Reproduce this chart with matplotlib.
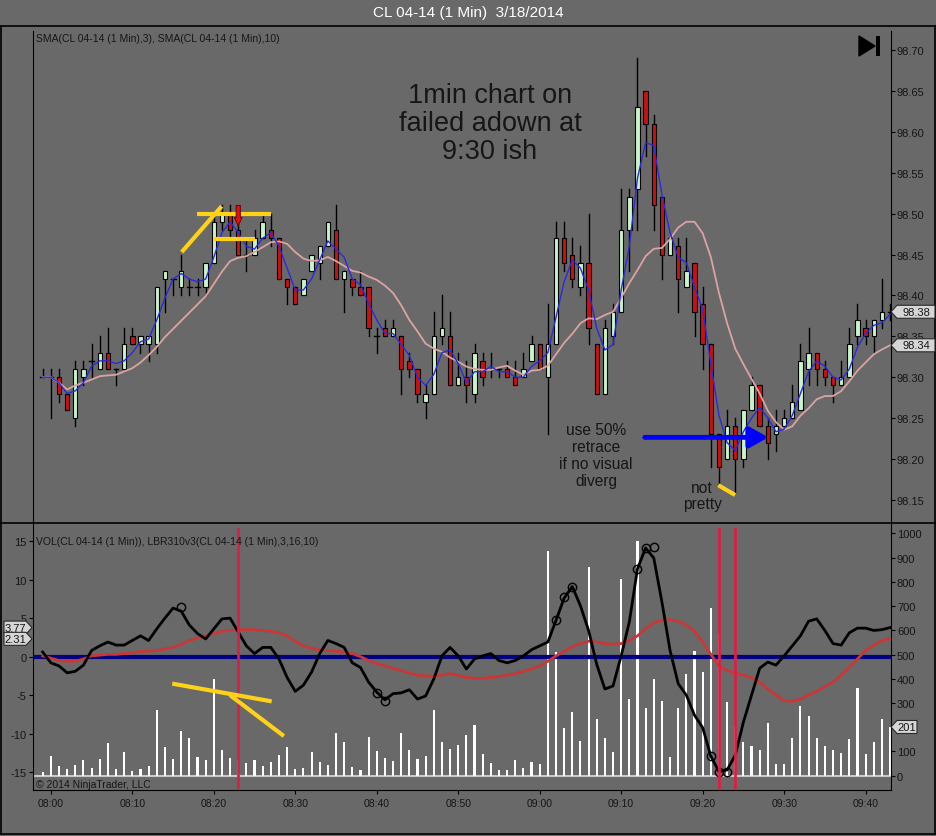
import numpy as np
import pandas as pd
import matplotlib
matplotlib.use('Agg')
import matplotlib.pyplot as plt
from matplotlib.patches import Rectangle, Polygon
from matplotlib.lines import Line2D

# CL 04-14, 1 minute bars, first bar is 07:59
opens = [98.30, 98.30, 98.30, 98.28, 98.25, 98.30, 98.32, 98.31, 98.33, 98.31,
         98.31, 98.35, 98.34, 98.34, 98.34, 98.42, 98.42, 98.41, 98.41, 98.41,
         98.41, 98.44, 98.49, 98.50, 98.48, 98.45, 98.45, 98.47, 98.48, 98.47,
         98.42, 98.41, 98.40, 98.43, 98.44, 98.46, 98.48, 98.42, 98.42, 98.41,
         98.41, 98.35, 98.36, 98.35, 98.35, 98.32, 98.31, 98.27, 98.28, 98.35,
         98.35, 98.29, 98.30, 98.28, 98.32, 98.31, 98.31, 98.31, 98.30, 98.30,
         98.32, 98.34, 98.30, 98.34, 98.47, 98.45, 98.41, 98.44, 98.34, 98.28,
         98.35, 98.38, 98.48, 98.53, 98.65, 98.61, 98.52, 98.45, 98.46, 98.41,
         98.44, 98.39, 98.34, 98.23, 98.20, 98.24, 98.20, 98.26, 98.29, 98.24,
         98.23, 98.24, 98.25, 98.26, 98.31, 98.33, 98.31, 98.30, 98.29, 98.30,
         98.35, 98.36, 98.35, 98.37, 98.38]
highs = [98.31, 98.31, 98.31, 98.28, 98.32, 98.32, 98.34, 98.35, 98.36, 98.31,
         98.36, 98.36, 98.35, 98.35, 98.41, 98.43, 98.42, 98.45, 98.42, 98.42,
         98.44, 98.50, 98.51, 98.51, 98.49, 98.47, 98.48, 98.50, 98.50, 98.47,
         98.42, 98.41, 98.42, 98.45, 98.46, 98.49, 98.51, 98.43, 98.42, 98.43,
         98.41, 98.36, 98.37, 98.37, 98.35, 98.33, 98.31, 98.29, 98.38, 98.40,
         98.38, 98.33, 98.32, 98.34, 98.33, 98.33, 98.31, 98.32, 98.32, 98.33,
         98.35, 98.34, 98.39, 98.49, 98.49, 98.47, 98.46, 98.50, 98.34, 98.37,
         98.39, 98.53, 98.53, 98.69, 98.65, 98.62, 98.52, 98.47, 98.47, 98.47,
         98.44, 98.41, 98.34, 98.23, 98.26, 98.25, 98.26, 98.30, 98.29, 98.25,
         98.26, 98.26, 98.29, 98.34, 98.36, 98.33, 98.32, 98.30, 98.32, 98.36,
         98.39, 98.37, 98.37, 98.42, 98.39]
lows = [98.30, 98.25, 98.27, 98.26, 98.24, 98.29, 98.30, 98.31, 98.31, 98.29,
        98.31, 98.34, 98.33, 98.32, 98.33, 98.38, 98.40, 98.40, 98.40, 98.40,
        98.40, 98.44, 98.48, 98.47, 98.45, 98.43, 98.45, 98.47, 98.46, 98.42,
        98.39, 98.39, 98.40, 98.43, 98.42, 98.46, 98.42, 98.38, 98.40, 98.40,
        98.35, 98.33, 98.35, 98.35, 98.28, 98.30, 98.27, 98.25, 98.28, 98.34,
        98.29, 98.29, 98.27, 98.27, 98.29, 98.30, 98.30, 98.30, 98.29, 98.30,
        98.32, 98.31, 98.23, 98.34, 98.43, 98.41, 98.40, 98.34, 98.28, 98.28,
        98.34, 98.38, 98.43, 98.48, 98.57, 98.48, 98.42, 98.45, 98.38, 98.41,
        98.35, 98.31, 98.19, 98.17, 98.20, 98.16, 98.19, 98.26, 98.24, 98.20,
        98.21, 98.24, 98.25, 98.26, 98.29, 98.29, 98.29, 98.27, 98.29, 98.30,
        98.34, 98.34, 98.33, 98.36, 98.37]
closes = [98.30, 98.30, 98.28, 98.26, 98.31, 98.31, 98.32, 98.33, 98.31, 98.31,
          98.34, 98.34, 98.35, 98.35, 98.41, 98.43, 98.42, 98.43, 98.41, 98.41,
          98.44, 98.49, 98.50, 98.48, 98.45, 98.45, 98.47, 98.49, 98.47, 98.42,
          98.41, 98.39, 98.42, 98.45, 98.46, 98.49, 98.42, 98.43, 98.41, 98.40,
          98.36, 98.35, 98.35, 98.36, 98.31, 98.31, 98.28, 98.28, 98.35, 98.36,
          98.29, 98.30, 98.29, 98.33, 98.30, 98.31, 98.31, 98.30, 98.29, 98.31,
          98.34, 98.31, 98.34, 98.47, 98.44, 98.42, 98.44, 98.36, 98.28, 98.36,
          98.38, 98.48, 98.52, 98.63, 98.61, 98.51, 98.45, 98.47, 98.42, 98.43,
          98.38, 98.34, 98.23, 98.19, 98.24, 98.20, 98.26, 98.29, 98.24, 98.22,
          98.24, 98.25, 98.27, 98.32, 98.33, 98.31, 98.30, 98.29, 98.30, 98.34,
          98.37, 98.35, 98.37, 98.38, 98.38]
volume = [14, 83, 41, 28, 44, 65, 32, 69, 135, 28,
          96, 21, 28, 41, 273, 118, 69, 185, 156, 77,
          65, 399, 106, 74, 65, 52, 65, 41, 56, 85,
          118, 28, 33, 98, 56, 44, 175, 139, 36, 23,
          160, 102, 73, 59, 176, 106, 69, 81, 273, 139,
          110, 127, 168, 209, 90, 52, 25, 25, 63, 32,
          55, 48, 928, 512, 196, 263, 145, 862, 234, 156,
          98, 813, 317, 967, 280, 399, 309, 77, 280, 420,
          515, 428, 693, 585, 304, 205, 139, 123, 106, 218,
          48, 48, 156, 288, 247, 156, 123, 106, 94, 152,
          362, 90, 139, 234, 201]
lbr_fast = [0.6, -0.8, -1.2, -2.1, -1.9, -1.1, 0.8, 1.4, 1.9, 1.5,
            1.5, 2.1, 2.7, 2.1, 3.6, 5.0, 6.3, 5.9, 4.1, 3.0,
            2.3, 3.6, 4.9, 5.0, 3.2, 1.4, 0.4, 1.2, 1.2, -0.3,
            -2.7, -4.5, -3.7, -2.0, 0.4, 2.1, 1.7, 1.2, -0.8, -1.4,
            -3.3, -4.6, -5.6, -4.8, -4.7, -4.3, -5.5, -5.1, -2.9, 0.1,
            1.2, 0.1, -1.6, -0.3, 0.1, 0.4, -0.5, -0.8, -0.5, 0.1,
            0.9, 1.4, 1.9, 4.7, 7.6, 9.1, 6.6, 3.4, -1.0, -4.2,
            -3.8, 0.1, 4.5, 11.4, 14.1, 12.8, 7.1, 0.8, -3.5, -5.0,
            -7.6, -9.2, -12.9, -14.9, -14.7, -12.8, -8.5, -5.0, -1.5, -0.7,
            -1.1, 0.1, 1.4, 2.7, 4.6, 4.9, 3.4, 1.7, 1.5, 3.1,
            3.7, 3.7, 3.4, 3.5, 3.77]
lbr_slow = [0.1, -0.2, -0.5, -0.6, -0.6, -0.3, 0.1, 0.2, 0.3, 0.3,
            0.4, 0.5, 0.7, 0.7, 0.8, 1.0, 1.2, 1.6, 2.1, 2.4,
            2.7, 3.0, 3.3, 3.4, 3.5, 3.5, 3.5, 3.4, 3.3, 3.1,
            2.7, 2.0, 1.4, 1.1, 0.9, 0.8, 0.7, 0.6, 0.4, 0.0,
            -0.5, -0.9, -1.2, -1.5, -1.8, -2.1, -2.4, -2.5, -2.5, -2.4,
            -2.2, -2.4, -2.7, -2.8, -2.8, -2.7, -2.6, -2.4, -2.2, -1.9,
            -1.6, -1.2, -0.6, 0.1, 0.7, 1.3, 1.7, 2.0, 1.9, 1.7,
            1.6, 1.7, 2.1, 2.7, 3.6, 4.4, 4.7, 4.8, 4.6, 4.1,
            3.3, 1.9, 0.3, -1.2, -1.8, -2.1, -2.4, -2.7, -3.3, -4.2,
            -5.0, -5.7, -5.8, -5.5, -5.0, -4.5, -3.9, -3.3, -2.4, -1.4,
            -0.3, 0.8, 1.5, 2.1, 2.31]
div_bars = [17, 41, 42, 63, 64, 65, 73, 74, 75, 82, 83, 84]
div_vals = [6.4, -4.7, -5.8, 4.7, 7.7, 9.1, 11.4, 14.1, 14.2, -12.9, -14.9, -15.0]
marker_bars = [24, 83, 85]

# hand drawn lines (bar index, value)
price_lines = [((17.06, 98.453), (21.97, 98.509)),
               ((18.98, 98.50), (28.0, 98.50)),
               ((21.06, 98.469), (26.06, 98.469)),
               ((82.93, 98.168), (84.98, 98.156))]
osc_lines = [((15.9, -3.5), (28.1, -5.8)),
             ((23.0, -5.0), (29.6, -10.3))]
blue_arrow = ((73.9, 98.2265), (89.06, 98.2265))
red_arrow = (24.0, 98.510, 98.485)

price_ticks = [98.15, 98.20, 98.25, 98.30, 98.35, 98.40, 98.45, 98.50, 98.55, 98.60, 98.65, 98.70]
osc_ticks = [-15, -10, -5, 0, 5, 10, 15]
vol_ticks = list(range(0, 1001, 100))

W, H = 937, 837
BG = '#696969'
TXT = '#161616'
plt.rcParams['font.family'] = ['Liberation Sans', 'DejaVu Sans']

def fx(px):
    return px / W

def fy(py):
    return 1 - py / H

n = len(closes)
xs = np.arange(n)
times = pd.date_range('2014-03-18 07:59', periods=n, freq='min')
cl = pd.Series(closes)
sma3 = cl.rolling(3, min_periods=1).mean()
sma10 = cl.rolling(10, min_periods=1).mean()

fig = plt.figure(figsize=(W / 100, H / 100), dpi=100, facecolor=BG)

ax = fig.add_axes([fx(33), fy(524), fx(890.7) - fx(33), fy(32) - fy(524)], facecolor=BG)
axv = fig.add_axes([fx(33), fy(790.7), fx(890.7) - fx(33), fy(524) - fy(790.7)], facecolor=BG)
axo = axv.twinx()

# ---- price panel
for i in range(n):
    o, h, l, c = opens[i], highs[i], lows[i], closes[i]
    ax.plot([i, i], [l, h], color='black', lw=1, zorder=2)
    if c == o:
        ax.plot([i - 0.3, i + 0.3], [c, c], color='black', lw=1, zorder=3)
    else:
        fc = '#c8f5c8' if c > o else '#cc1010'
        ax.add_patch(Rectangle((i - 0.27, min(o, c)), 0.54, abs(c - o),
                               fc=fc, ec='black', lw=0.8, zorder=3))
ax.plot(xs, sma10, color='#dba3a3', lw=1.3, zorder=4)
ax.plot(xs, sma3, color='#2a2ae0', lw=1, zorder=4)

for (x0, y0), (x1, y1) in price_lines:
    ax.plot([x0, x1], [y0, y1], color='#ffd21a', lw=3, solid_capstyle='butt', zorder=5)
ax.annotate('', xy=blue_arrow[1], xytext=blue_arrow[0],
            arrowprops=dict(arrowstyle='-|>,head_length=0.8,head_width=0.45', color='#0000ff',
                            lw=3.5, mutation_scale=14, shrinkA=0, shrinkB=0), zorder=6)
ax.annotate('', xy=(red_arrow[0], red_arrow[2]), xytext=(red_arrow[0], red_arrow[1]),
            arrowprops=dict(arrowstyle='simple,head_length=0.6,head_width=0.55,tail_width=0.3',
                            fc='#e01010', ec='#700000', lw=0.7, mutation_scale=10,
                            shrinkA=0, shrinkB=0), zorder=6)

ax.set_xlim(-1.19, 104.08)
ax.set_ylim(98.1218, 98.7232)
ax.set_xticks([])
ax.yaxis.tick_right()
ax.set_yticks(price_ticks)
ax.set_yticklabels(['%.2f' % t for t in price_ticks])
ax.tick_params(axis='y', length=3, width=0.8, color='black', labelsize=8, labelcolor=TXT, pad=1.5)
for s in ['top', 'bottom']:
    ax.spines[s].set_visible(False)
for s in ['left', 'right']:
    ax.spines[s].set_color('black')

# ---- volume / oscillator panel
axv.bar(xs, volume, width=0.26, color='white', zorder=2)
axv.axhline(0, color='#c8c8c8', lw=1.5, zorder=1)
axv.set_ylim(-57.9, 1043)
axv.yaxis.tick_right()
axv.set_yticks(vol_ticks)
axv.set_yticklabels([str(v) for v in vol_ticks])
tick_idx = [i for i, t in enumerate(times) if t.minute % 10 == 0]
axv.set_xticks(tick_idx)
axv.set_xticklabels([times[i].strftime('%H:%M') for i in tick_idx])
axv.set_xlim(-1.19, 104.08)
axv.tick_params(length=3, width=0.8, color='black', labelsize=8, labelcolor=TXT, pad=1.5)
axv.tick_params(axis='x', labelsize=7.5, pad=3)
axv.spines['top'].set_visible(False)

axo.axhline(0, color='#000080', lw=3, zorder=2)
axo.plot(xs, lbr_slow, color='#c83838', lw=2, zorder=3)
axo.plot(xs, lbr_fast, color='black', lw=2, zorder=4)
axo.plot(div_bars, div_vals, 'o', ms=6, mfc='none', mec='black', mew=1, zorder=5)
for b in marker_bars:
    axo.axvline(b, ymin=0, ymax=0.979, color='#dc1e46', lw=2, zorder=6)
for (x0, y0), (x1, y1) in osc_lines:
    axo.plot([x0, x1], [y0, y1], color='#ffd21a', lw=3, solid_capstyle='butt', zorder=7)
axo.set_ylim(-17.26, 17.34)
axo.yaxis.tick_left()
axo.set_yticks(osc_ticks)
axo.set_yticklabels([str(v) for v in osc_ticks])
axo.tick_params(length=3, width=0.8, color='black', labelsize=8, labelcolor=TXT, pad=1.5)
for s in axo.spines.values():
    s.set_visible(False)

# ---- frame and separators
for seg in [((1, 936), (27, 27)), ((1, 936), (524.3, 524.3)), ((1, 936), (835, 835)),
            ((1, 1), (27, 835)), ((935.5, 935.5), (27, 835))]:
    fig.add_artist(Line2D([fx(seg[0][0]), fx(seg[0][1])], [fy(seg[1][0]), fy(seg[1][1])],
                          color='black', lw=1.2, transform=fig.transFigure))

fig.text(0.5, fy(13), 'CL 04-14 (1 Min)  3/18/2014', color='white', fontsize=11,
         ha='center', va='center')
fig.text(fx(36), fy(39), 'SMA(CL 04-14 (1 Min),3), SMA(CL 04-14 (1 Min),10)',
         color=TXT, fontsize=7.5, va='center')
fig.text(fx(36), fy(542), 'VOL(CL 04-14 (1 Min)), LBR310v3(CL 04-14 (1 Min),3,16,10)',
         color=TXT, fontsize=7.5, va='center')
fig.text(fx(36), fy(785), '\u00a9 2014 NinjaTrader, LLC', color=TXT, fontsize=7.5, va='center')

fig.text(fx(490), fy(124), '1min chart on\nfailed adown at\n9:30 ish', fontsize=19.5,
         color=TXT, ha='center', va='center', linespacing=1.1)
fig.text(fx(596), fy(456), 'use 50%\nretrace\nif no visual\ndiverg', fontsize=11.2,
         color=TXT, ha='center', va='center', linespacing=1.15)
fig.text(fx(702), fy(496.5), 'not\npretty', fontsize=11.2, color=TXT,
         ha='center', va='center', linespacing=1.15)

# end-of-chart icon
fig.add_artist(Polygon([(fx(859), fy(37)), (fx(859), fy(57)), (fx(875), fy(47))],
                       closed=True, fc='black', ec='black', transform=fig.transFigure))
fig.add_artist(Rectangle((fx(876.5), fy(57)), fx(4), fy(37) - fy(57), fc='black', ec='none',
                         transform=fig.transFigure))


def tag(axis, val, text, x0, x1, right=True):
    yd = axis.transData.transform((0, val))[1]
    yc = H - yd
    hh = 6.5
    if right:
        pts = [(x0, yc), (x0 + 6, yc - hh), (x1, yc - hh), (x1, yc + hh), (x0 + 6, yc + hh)]
        tx = (x0 + 6 + x1) / 2
    else:
        pts = [(x1, yc), (x1 - 6, yc - hh), (x0, yc - hh), (x0, yc + hh), (x1 - 6, yc + hh)]
        tx = (x0 + x1 - 6) / 2
    fig.add_artist(Polygon([(fx(a), fy(b)) for a, b in pts], closed=True, fc='#d6d6d6',
                           ec='#2a2a2a', lw=0.8, transform=fig.transFigure, zorder=10))
    fig.text(fx(tx), fy(yc), text, fontsize=8, color=TXT, ha='center', va='center', zorder=11)


tag(ax, closes[-1], '%.2f' % closes[-1], 891, 935)
tag(ax, sma10.iloc[-1], '%.2f' % sma10.iloc[-1], 891, 935)
tag(axv, volume[-1], str(volume[-1]), 891, 917)
tag(axo, lbr_fast[-1], '%.2f' % lbr_fast[-1], 4, 32, right=False)
tag(axo, lbr_slow[-1], '%.2f' % lbr_slow[-1], 4, 32, right=False)

fig.savefig('out.png', dpi=100, facecolor=BG)
